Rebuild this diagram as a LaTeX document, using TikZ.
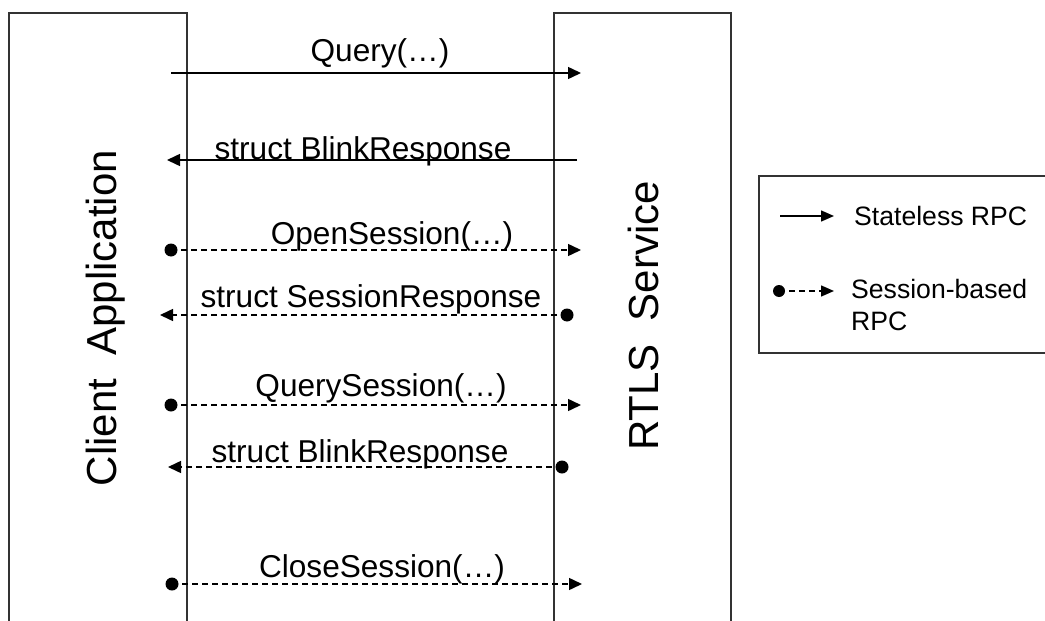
\documentclass[tikz,border=0pt]{standalone}
\usepackage{fontspec}
\setmainfont{Liberation Sans}
\usetikzlibrary{arrows.meta}
\begin{document}
\begin{tikzpicture}[x=1pt,y=-1pt,
  frame/.style={draw=black!80, line width=2pt, inner sep=0pt, anchor=north west},
  msg/.style={font=\fontsize{31.6}{36}\selectfont, inner sep=0pt, anchor=base},
  lifetitle/.style={font=\fontsize{42}{48}\selectfont, inner sep=0pt, rotate=90, anchor=base},
  call/.style={line width=1.5pt, -{Triangle[length=13pt,width=12pt]}},
  scall/.style={call, dash pattern=on 6pt off 4pt},
  dotn/.style={circle, fill=black, inner sep=0pt, minimum size=13pt},
  legcall/.style={line width=1.5pt, -{Triangle[length=13pt,width=11pt]}},
  legscall/.style={legcall, dash pattern=on 6pt off 4pt},
  legdot/.style={circle, fill=black, inner sep=0pt, minimum size=12pt},
  endp/.style={coordinate},
  legtext/.style={font=\fontsize{26.6}{30}\selectfont, inner sep=0pt, anchor=base west}]
\useasboundingbox (0,0) rectangle (1045,621);
\clip (0,0) rectangle (1045,621);
\fill[white] (0,0) rectangle (1045,621);

% lifeline boxes
\node[frame, minimum width=178pt, minimum height=640pt] (client) at (8,12) {};
\node[frame, minimum width=177pt, minimum height=640pt] (rtls) at (553,12) {};
\node[lifetitle] (clientlbl) at (116,318) {Client\ \ Application};
\node[lifetitle] (rtlslbl) at (658,316) {RTLS\ \ Service};

% 1 Query
\node[endp] (s1) at (171,73) {};
\node[endp] (e1) at (581,73) {};
\draw[call] (s1) -- (e1);
\node[msg] (l1) at (380,61) {Query(…)};

% 2 struct BlinkResponse
\node[endp] (s2) at (577,160) {};
\node[endp] (e2) at (167,160) {};
\draw[call] (s2) -- (e2);
\node[msg] (l2) at (363,159) {struct BlinkResponse};

% 3 OpenSession
\node[dotn] (d3) at (171,250) {};
\node[endp] (e3) at (581,250) {};
\draw[scall] (d3.center) -- (e3);
\node[msg] (l3) at (392,244) {OpenSession(…)};

% 4 struct SessionResponse
\node[dotn] (d4) at (567,315) {};
\node[endp] (e4) at (160,315) {};
\draw[scall] (d4.center) -- (e4);
\node[msg] (l4) at (371,307) {struct SessionResponse};

% 5 QuerySession
\node[dotn] (d5) at (171,405) {};
\node[endp] (e5) at (581,405) {};
\draw[scall] (d5.center) -- (e5);
\node[msg] (l5) at (381,396) {QuerySession(…)};

% 6 struct BlinkResponse
\node[dotn] (d6) at (562,467) {};
\node[endp] (e6) at (168,467) {};
\draw[scall] (d6.center) -- (e6);
\node[msg] (l6) at (360,462) {struct BlinkResponse};

% 7 CloseSession
\node[dotn] (d7) at (172,584) {};
\node[endp] (e7) at (582,584) {};
\draw[scall] (d7.center) -- (e7);
\node[msg] (l7) at (382,577) {CloseSession(…)};

% legend
\node[frame, minimum width=300pt, minimum height=177pt] (legend) at (758,175) {};
\node[endp] (ls1) at (780,216) {};
\node[endp] (le1) at (834,216) {};
\draw[legcall] (ls1) -- (le1);
\node[legtext] (lt1) at (854,225) {Stateless RPC};
\node[legdot] (ld2) at (779,291) {};
\node[endp] (le2) at (834,291) {};
\draw[legscall] (ld2.center) -- (le2);
\node[legtext] (lt2) at (851,298) {Session-based};
\node[legtext] (lt3) at (851,330) {RPC};
\end{tikzpicture}
\end{document}
